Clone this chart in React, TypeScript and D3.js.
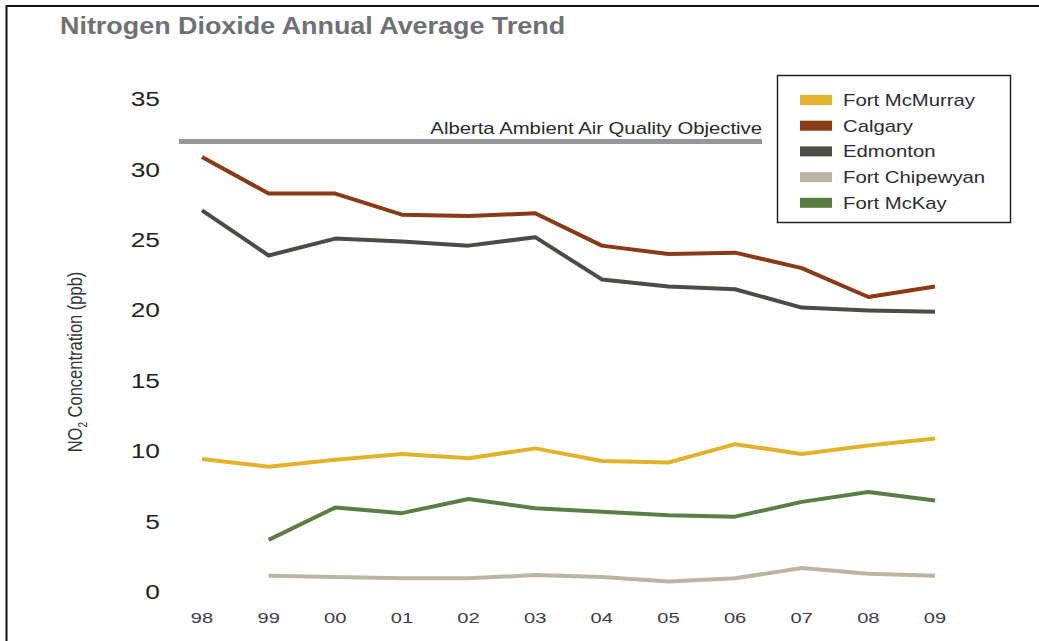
import React from "react";
import * as d3 from "d3";

const years = ["98", "99", "00", "01", "02", "03", "04", "05", "06", "07", "08", "09"];
const yTicks = [0, 5, 10, 15, 20, 25, 30, 35];
const objectiveValue = 32;
const objectiveLabel = "Alberta Ambient Air Quality Objective";

const fortMcMurray = [9.45, 8.9, 9.4, 9.8, 9.5, 10.2, 9.3, 9.2, 10.5, 9.8, 10.4, 10.9];
const calgary = [30.9, 28.3, 28.3, 26.8, 26.7, 26.9, 24.6, 24.0, 24.1, 23.0, 20.95, 21.7];
const edmonton = [27.1, 23.9, 25.1, 24.9, 24.6, 25.2, 22.2, 21.7, 21.5, 20.2, 20.0, 19.9];
const fortChipewyan = [null, 1.15, 1.07, 0.97, 0.97, 1.2, 1.07, 0.75, 0.97, 1.7, 1.3, 1.15];
const fortMcKay = [null, 3.7, 6.0, 5.6, 6.6, 5.95, 5.7, 5.45, 5.35, 6.4, 7.1, 6.5];

const seriesNames = ["Fort McMurray", "Calgary", "Edmonton", "Fort Chipewyan", "Fort McKay"];
const seriesValues = [fortMcMurray, calgary, edmonton, fortChipewyan, fortMcKay];
const seriesColors = ["#e2b32a", "#8a3a14", "#4b4c43", "#bdb4a2", "#5b7e45"];

const FONT = "'Liberation Sans', Arial, Helvetica, sans-serif";

function SText(props: any) {
  const { x, y, sx = 1.27, anchor = "start", children, ...rest } = props;
  return (
    <text transform={`translate(${x},${y}) scale(${sx},1)`} textAnchor={anchor} {...rest}>
      {children}
    </text>
  );
}

export default function App() {
  const W = 1039;
  const H = 641;
  const x = d3.scalePoint<string>().domain(years).range([202, 935]);
  const y = d3.scaleLinear().domain([0, 35]).range([592, 99.2]);

  const line = d3
    .line<number | null>()
    .defined((d) => d !== null)
    .x((_, i) => x(years[i]) as number)
    .y((d) => y(d as number));

  const drawOrder = [3, 4, 0, 2, 1];

  return (
    <svg
      width={W}
      height={H}
      style={{ position: "absolute", left: 0, top: 0, background: "#fff" }}
      fontFamily={FONT}
    >
      <rect x={0} y={0} width={W} height={H} fill="#fff" />
      {/* frame */}
      <line x1={6} y1={6} x2={W} y2={6} stroke="#111" strokeWidth={2} />
      <line x1={6.5} y1={5} x2={6.5} y2={H} stroke="#111" strokeWidth={2} />

      {/* title */}
      <SText x={60} y={34} sx={1.17} fontSize={23} fontWeight={700} fill="#707174">
        Nitrogen Dioxide Annual Average Trend
      </SText>

      {/* y tick labels */}
      {yTicks.map((t) => (
        <SText key={t} x={160} y={y(t) + 7} sx={1.35} anchor="end" fontSize={19.5} fill="#222">
          {t}
        </SText>
      ))}

      {/* x tick labels */}
      {years.map((yr) => (
        <SText key={yr} x={x(yr) as number} y={623} sx={1.3} anchor="middle" fontSize={15.5} fill="#3c3c48">
          {yr}
        </SText>
      ))}

      {/* y axis title */}
      <text
        transform={`translate(82, 362) rotate(-90) scale(1, 1.2)`}
        textAnchor="middle"
        fontSize={16.5}
        fill="#333"
      >
        NO
        <tspan fontSize={10} dy={4}>2</tspan>
        <tspan dy={-4}> Concentration (ppb)</tspan>
      </text>

      {/* objective line */}
      <line
        x1={179}
        x2={762}
        y1={y(objectiveValue)}
        y2={y(objectiveValue)}
        stroke="#96969a"
        strokeWidth={5}
      />
      <SText x={762} y={y(objectiveValue) - 7} anchor="end" fontSize={16} fill="#2a2a2a">
        {objectiveLabel}
      </SText>

      {/* series */}
      {drawOrder.map((i) => (
        <path
          key={seriesNames[i]}
          d={line(seriesValues[i]) || ""}
          fill="none"
          stroke={seriesColors[i]}
          strokeWidth={4}
          strokeLinejoin="round"
        />
      ))}

      {/* legend */}
      <rect x={777.5} y={75.5} width={233} height={147} fill="#fff" stroke="#222" strokeWidth={1.5} />
      {seriesNames.map((n, i) => (
        <g key={n} transform={`translate(800, ${100 + i * 25.7})`}>
          <rect x={0} y={-5} width={32} height={10} fill={seriesColors[i]} />
          <SText x={43} y={5.8} fontSize={16} fill="#2c2c34">
            {n}
          </SText>
        </g>
      ))}
    </svg>
  );
}
